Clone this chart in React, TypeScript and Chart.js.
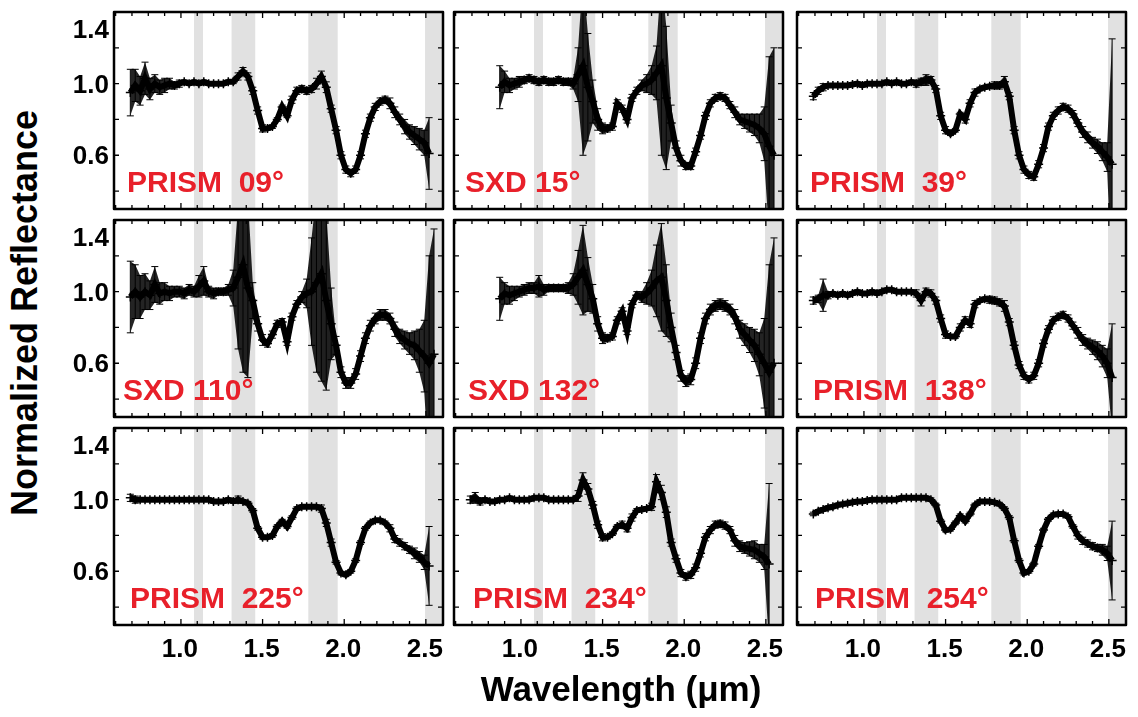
import React, { useEffect, useRef } from "react";
import { Chart, registerables } from "chart.js";

Chart.register(...registerables);

// ---------- data ----------
const WAVELENGTH = [
  0.69, 0.72, 0.75, 0.78, 0.81, 0.84, 0.87, 0.9, 0.93, 0.96,
  0.99, 1.02, 1.05, 1.08, 1.11, 1.14, 1.17, 1.2, 1.23, 1.26,
  1.29, 1.32, 1.35, 1.38, 1.41, 1.44, 1.47, 1.5, 1.53, 1.56,
  1.59, 1.62, 1.65, 1.68, 1.71, 1.74, 1.77, 1.8, 1.83, 1.86,
  1.89, 1.92, 1.95, 1.98, 2.01, 2.04, 2.07, 2.1, 2.13, 2.16,
  2.19, 2.22, 2.25, 2.28, 2.31, 2.34, 2.37, 2.4, 2.43, 2.46,
  2.49, 2.52, 2.55,
];

const PRISM_09 = [
  0.95, 0.99, 0.96, 1.03, 0.97, 1.0, 0.98, 0.99, 1.0, 0.99,
  1.0, 1.01, 1.0, 1.01, 1.0, 1.01, 1.0, 1.0, 1.0, 1.0,
  1.01, 1.01, 1.04, 1.07, 1.04, 0.96, 0.85, 0.75, 0.75, 0.76,
  0.8, 0.87, 0.82, 0.91, 0.96, 0.97, 0.96, 0.97, 1.0, 1.04,
  0.98, 0.86, 0.74, 0.6, 0.52, 0.5, 0.52, 0.6, 0.72, 0.81,
  0.87, 0.9, 0.91, 0.89, 0.84, 0.8, 0.76, 0.73, 0.71, 0.69,
  0.67, 0.61, null,
];
const PRISM_09_ERR = [
  0.13, 0.09, 0.08, 0.09, 0.06, 0.05, 0.04, 0.04, 0.03, 0.02,
  0.02, 0.01, 0.01, 0.01, 0.01, 0.01, 0.01, 0.01, 0.01, 0.01,
  0.01, 0.01, 0.02, 0.02, 0.02, 0.02, 0.02, 0.02, 0.01, 0.01,
  0.01, 0.01, 0.01, 0.02, 0.02, 0.02, 0.02, 0.02, 0.03, 0.03,
  0.03, 0.02, 0.02, 0.02, 0.02, 0.02, 0.02, 0.02, 0.02, 0.02,
  0.02, 0.02, 0.02, 0.03, 0.03, 0.03, 0.04, 0.04, 0.05, 0.06,
  0.07, 0.2, 0,
];

const SXD_15 = [
  null, null, null, null, null, null, 0.98, 1.01, 0.99, 1.0,
  1.01, 1.02, 1.03, 1.02, 1.01, 1.02, 1.01, 1.01, 1.02, 1.01,
  1.01, 1.0, 1.05, 1.1, 0.98, 0.9, 0.8, 0.75, 0.75, 0.76,
  0.89, 0.86, 0.8, 0.92, 0.96, 0.99, 1.0, 1.02, 1.06, 1.1,
  0.92, 0.78, 0.64, 0.57, 0.54, 0.54, 0.62, 0.71, 0.82, 0.89,
  0.92, 0.93, 0.92, 0.88, 0.84, 0.8, 0.79, 0.78, 0.77, 0.75,
  0.72, 0.65, 0.6,
];
const SXD_15_ERR = [
  0, 0, 0, 0, 0, 0, 0.12, 0.06, 0.04, 0.03,
  0.03, 0.02, 0.02, 0.02, 0.02, 0.02, 0.02, 0.02, 0.02, 0.02,
  0.02, 0.03, 0.15, 0.5, 0.3, 0.12, 0.06, 0.03, 0.02, 0.02,
  0.02, 0.02, 0.02, 0.02, 0.02, 0.03, 0.05, 0.08, 0.15, 0.5,
  0.4, 0.1, 0.04, 0.03, 0.02, 0.02, 0.02, 0.02, 0.02, 0.02,
  0.02, 0.02, 0.02, 0.02, 0.03, 0.03, 0.04, 0.05, 0.06, 0.08,
  0.15, 0.5, 0.6,
];

const PRISM_39 = [
  0.93, 0.96, 0.98, 0.99, 0.99, 0.99, 0.99, 0.99, 0.995, 1.0,
  0.99, 1.0, 1.0, 1.0, 1.0, 1.01, 1.0, 1.01, 1.0, 1.0,
  1.01, 1.0, 1.01, 1.02, 1.02, 0.97, 0.82, 0.74, 0.72, 0.74,
  0.83, 0.8, 0.89, 0.95, 0.97, 0.98, 0.985, 0.99, 0.99, 1.01,
  0.93, 0.74, 0.6, 0.52, 0.49, 0.48, 0.55, 0.64, 0.76, 0.82,
  0.85, 0.87, 0.86, 0.83, 0.78, 0.73, 0.7, 0.67, 0.65, 0.62,
  0.59, 0.55, null,
];
const PRISM_39_ERR = [
  0.02, 0.02, 0.02, 0.01, 0.01, 0.01, 0.01, 0.01, 0.01, 0.01,
  0.01, 0.01, 0.01, 0.01, 0.01, 0.01, 0.01, 0.01, 0.01, 0.01,
  0.01, 0.02, 0.02, 0.03, 0.02, 0.02, 0.02, 0.02, 0.01, 0.01,
  0.01, 0.02, 0.02, 0.02, 0.01, 0.01, 0.01, 0.02, 0.02, 0.03,
  0.02, 0.02, 0.02, 0.02, 0.02, 0.02, 0.02, 0.02, 0.02, 0.02,
  0.02, 0.02, 0.02, 0.02, 0.02, 0.03, 0.03, 0.03, 0.04, 0.05,
  0.08, 0.7, 0,
];

const SXD_110 = [
  0.97, 1.0, 0.97, 1.0, 0.98, 1.04, 0.99, 1.0, 0.99, 1.0,
  1.0, 0.99, 1.01, 1.0, 1.03, 1.06, 1.0, 0.99, 1.0, 1.0,
  1.01, 1.02, 1.08, 1.15, 1.02, 0.95, 0.82, 0.73, 0.71, 0.76,
  0.82, 0.83, 0.72, 0.86, 0.93, 0.97, 0.99, 1.0, 1.05, 1.1,
  0.95, 0.82, 0.7, 0.55, 0.49, 0.49, 0.54, 0.64, 0.74, 0.81,
  0.85, 0.87, 0.87, 0.85, 0.79, 0.75, 0.73, 0.71, 0.7, 0.67,
  0.64, 0.6, 0.65,
];
const SXD_110_ERR = [
  0.2, 0.15, 0.12, 0.1, 0.08, 0.1, 0.06, 0.05, 0.04, 0.03,
  0.03, 0.03, 0.03, 0.03, 0.06, 0.08, 0.03, 0.03, 0.02, 0.02,
  0.03, 0.1, 0.4, 0.6, 0.5, 0.1, 0.04, 0.03, 0.02, 0.02,
  0.02, 0.02, 0.02, 0.02, 0.02, 0.03, 0.08, 0.3, 0.5, 0.6,
  0.5, 0.2, 0.05, 0.03, 0.03, 0.03, 0.03, 0.03, 0.03, 0.03,
  0.03, 0.03, 0.03, 0.03, 0.04, 0.04, 0.05, 0.06, 0.08, 0.12,
  0.2, 0.6, 0.7,
];

const SXD_132 = [
  null, null, null, null, null, null, 0.96, 0.99, 0.98, 0.99,
  1.0, 1.01, 1.02, 1.02, 1.03, 1.01, 1.02, 1.02, 1.02, 1.02,
  1.02, 1.04, 1.08, 1.12, 1.04, 0.96, 0.82, 0.74, 0.74, 0.75,
  0.84, 0.89, 0.78, 0.93, 0.98, 0.97, 0.99, 1.02, 1.06, 1.08,
  0.95, 0.8, 0.66, 0.53, 0.5, 0.51, 0.6, 0.74, 0.85, 0.9,
  0.92, 0.93, 0.92, 0.9, 0.86, 0.79, 0.76, 0.73, 0.7, 0.65,
  0.6, 0.55, 0.6,
];
const SXD_132_ERR = [
  0, 0, 0, 0, 0, 0, 0.12, 0.06, 0.05, 0.04,
  0.03, 0.03, 0.03, 0.03, 0.06, 0.03, 0.02, 0.02, 0.02, 0.02,
  0.03, 0.06, 0.15, 0.25, 0.15, 0.08, 0.04, 0.03, 0.02, 0.02,
  0.02, 0.02, 0.02, 0.02, 0.02, 0.03, 0.06, 0.1, 0.2, 0.3,
  0.2, 0.08, 0.04, 0.03, 0.03, 0.03, 0.03, 0.03, 0.03, 0.03,
  0.03, 0.03, 0.03, 0.03, 0.04, 0.05, 0.06, 0.07, 0.09, 0.12,
  0.25, 0.6, 0.7,
];

const PRISM_138 = [
  0.95, 0.96, 0.98, 0.98, 0.99, 0.98, 0.99, 0.98, 0.99, 1.0,
  0.99, 0.99, 1.0, 0.99, 1.0, 1.01, 1.01, 1.0, 1.0, 1.0,
  1.0, 0.99, 0.95, 1.0, 0.99, 0.95, 0.85, 0.76, 0.75, 0.75,
  0.8, 0.84, 0.82, 0.93, 0.95, 0.96, 0.955, 0.95, 0.94, 0.92,
  0.83, 0.7, 0.59, 0.53, 0.51, 0.53, 0.6, 0.71, 0.79, 0.84,
  0.86, 0.87, 0.85, 0.81, 0.77, 0.73, 0.71, 0.69, 0.67, 0.64,
  0.6, 0.52, null,
];
const PRISM_138_ERR = [
  0.02, 0.02, 0.09, 0.02, 0.01, 0.01, 0.01, 0.01, 0.01, 0.01,
  0.01, 0.01, 0.01, 0.01, 0.01, 0.01, 0.01, 0.01, 0.01, 0.01,
  0.01, 0.02, 0.03, 0.02, 0.02, 0.02, 0.02, 0.02, 0.01, 0.01,
  0.02, 0.02, 0.02, 0.02, 0.01, 0.01, 0.02, 0.02, 0.02, 0.03,
  0.02, 0.02, 0.02, 0.02, 0.02, 0.02, 0.02, 0.02, 0.02, 0.02,
  0.02, 0.02, 0.02, 0.02, 0.03, 0.03, 0.03, 0.04, 0.05, 0.06,
  0.08, 0.3, 0,
];

const PRISM_225 = [
  1.01, 1.0, 1.0, 1.0, 1.0, 1.0, 1.0, 1.0, 1.0, 1.0,
  1.0, 1.0, 1.0, 1.0, 1.0, 1.0, 1.0, 0.99, 0.99, 0.99,
  1.0, 0.99, 1.0, 0.99, 0.98, 0.94, 0.84, 0.79, 0.79, 0.8,
  0.85, 0.88, 0.85, 0.9, 0.95, 0.96, 0.96, 0.96, 0.96, 0.95,
  0.87, 0.76, 0.65, 0.59, 0.58, 0.6, 0.66, 0.76, 0.84, 0.87,
  0.885, 0.885, 0.87, 0.84, 0.78, 0.76, 0.74, 0.72, 0.7, 0.68,
  0.65, 0.63, null,
];
const PRISM_225_ERR = [
  0.02, 0.02, 0.01, 0.01, 0.01, 0.01, 0.01, 0.01, 0.01, 0.01,
  0.01, 0.01, 0.01, 0.01, 0.01, 0.01, 0.01, 0.01, 0.01, 0.01,
  0.01, 0.01, 0.02, 0.01, 0.01, 0.01, 0.01, 0.01, 0.01, 0.01,
  0.01, 0.01, 0.01, 0.01, 0.01, 0.01, 0.01, 0.01, 0.01, 0.02,
  0.02, 0.02, 0.01, 0.01, 0.01, 0.01, 0.01, 0.01, 0.01, 0.01,
  0.01, 0.01, 0.01, 0.02, 0.02, 0.02, 0.02, 0.02, 0.03, 0.03,
  0.04, 0.22, 0,
];

const PRISM_234 = [
  1.0, 1.01, 0.99, 1.0, 0.99, 0.99, 1.0, 1.0, 1.01, 1.0,
  1.0, 1.0, 1.0, 1.01, 1.01, 1.01, 1.0, 1.0, 1.0, 1.0,
  1.0, 1.0, 1.02, 1.11, 1.06, 0.97, 0.86, 0.79, 0.79, 0.81,
  0.85, 0.86, 0.84, 0.9, 0.94, 0.945, 0.95, 0.96, 1.1, 1.04,
  0.93, 0.76, 0.67, 0.59, 0.57, 0.58, 0.62, 0.7, 0.79, 0.83,
  0.86, 0.865, 0.855, 0.83, 0.77, 0.74, 0.73, 0.725, 0.72, 0.7,
  0.68, 0.64, null,
];
const PRISM_234_ERR = [
  0.02, 0.03, 0.02, 0.01, 0.01, 0.01, 0.01, 0.01, 0.01, 0.01,
  0.01, 0.01, 0.01, 0.01, 0.01, 0.01, 0.01, 0.01, 0.01, 0.01,
  0.01, 0.01, 0.03, 0.04, 0.03, 0.02, 0.02, 0.02, 0.01, 0.01,
  0.01, 0.02, 0.02, 0.02, 0.01, 0.01, 0.01, 0.02, 0.04, 0.04,
  0.03, 0.02, 0.02, 0.02, 0.02, 0.02, 0.02, 0.02, 0.02, 0.02,
  0.02, 0.02, 0.02, 0.02, 0.03, 0.03, 0.03, 0.04, 0.05, 0.05,
  0.07, 0.45, 0,
];

const PRISM_254 = [
  0.92, 0.935, 0.945, 0.955, 0.96, 0.97, 0.975, 0.98, 0.985, 0.99,
  0.99, 0.995, 1.0, 1.0, 1.0, 1.0, 1.0, 1.0, 1.01, 1.01,
  1.01, 1.01, 1.01, 1.01, 1.0, 0.97, 0.88, 0.83, 0.835, 0.87,
  0.91, 0.88, 0.92, 0.97, 0.99, 0.99, 0.99, 0.985, 0.975, 0.95,
  0.9, 0.77, 0.66, 0.59, 0.6, 0.64, 0.74, 0.83, 0.89, 0.915,
  0.92, 0.92, 0.905, 0.85, 0.8, 0.77, 0.755, 0.74, 0.73, 0.72,
  0.7, 0.66, null,
];
const PRISM_254_ERR = [
  0.01, 0.01, 0.01, 0.01, 0.01, 0.01, 0.01, 0.01, 0.01, 0.01,
  0.01, 0.01, 0.01, 0.01, 0.01, 0.01, 0.01, 0.01, 0.01, 0.01,
  0.01, 0.01, 0.01, 0.01, 0.01, 0.01, 0.01, 0.01, 0.01, 0.01,
  0.01, 0.01, 0.01, 0.01, 0.01, 0.01, 0.01, 0.01, 0.01, 0.01,
  0.01, 0.01, 0.01, 0.01, 0.01, 0.01, 0.01, 0.01, 0.01, 0.01,
  0.01, 0.01, 0.01, 0.01, 0.02, 0.02, 0.02, 0.02, 0.02, 0.03,
  0.04, 0.22, 0,
];

const PANEL_LABELS = [
  "PRISM  09°", "SXD 15°", "PRISM  39°",
  "SXD 110°", "SXD 132°", "PRISM  138°",
  "PRISM  225°", "PRISM  234°", "PRISM  254°",
];
const PANEL_VALUES = [
  PRISM_09, SXD_15, PRISM_39,
  SXD_110, SXD_132, PRISM_138,
  PRISM_225, PRISM_234, PRISM_254,
];
const PANEL_ERRORS = [
  PRISM_09_ERR, SXD_15_ERR, PRISM_39_ERR,
  SXD_110_ERR, SXD_132_ERR, PRISM_138_ERR,
  PRISM_225_ERR, PRISM_234_ERR, PRISM_254_ERR,
];

const Y_LABEL_VALUES = [1.4, 1.0, 0.6];
const Y_LABEL_TEXT = ["1.4", "1.0", "0.6"];
const X_LABEL_VALUES = [1.0, 1.5, 2.0, 2.5];
const X_LABEL_TEXT = ["1.0", "1.5", "2.0", "2.5"];
const Y_TICKS = [0.4, 0.6, 0.8, 1.0, 1.2];
const TELLURIC_BANDS = [
  [1.08, 1.135],
  [1.31, 1.455],
  [1.78, 1.96],
  [2.495, 2.62],
];

// ---------- layout / style ----------
const X_MIN = 0.59;
const X_MAX = 2.605;
const Y_MIN = 0.3;
const Y_MAX = 1.4;
const COL_LEFT = [114, 454, 797];
const ROW_TOP = [10, 218, 426];
const FRAME_W = 331;
const FRAME_H = 199;
const PAD = { left: 60, right: 4, top: 4, bottom: 44 };
const LABEL_DX = [13, 11, 13, 9, 14, 16, 16, 19, 18];
const FONT = '"Liberation Sans", Arial, Helvetica, sans-serif';
const RED = "#e8202a";

function Panel({ index }: { index: number }) {
  const ref = useRef<HTMLCanvasElement | null>(null);
  const row = Math.floor(index / 3);
  const col = index % 3;
  const cw = FRAME_W + PAD.left + PAD.right;
  const ch = FRAME_H + PAD.top + PAD.bottom;

  useEffect(() => {
    const values = PANEL_VALUES[index];
    const errors = PANEL_ERRORS[index];
    const main = WAVELENGTH.map((w, i) => ({ x: w, y: values[i] }));
    const upper = WAVELENGTH.map((w, i) => ({
      x: w,
      y: values[i] == null ? null : (values[i] as number) + errors[i],
    }));
    const lower = WAVELENGTH.map((w, i) => ({
      x: w,
      y: values[i] == null ? null : (values[i] as number) - errors[i],
    }));

    const bandPlugin = {
      id: "bands",
      beforeDatasetsDraw(chart: any) {
        const { ctx, chartArea: a, scales } = chart;
        const x = scales.x;
        ctx.save();
        ctx.fillStyle = "#e1e1e1";
        for (const [s, e] of TELLURIC_BANDS) {
          const x1 = Math.max(a.left, x.getPixelForValue(s));
          const x2 = Math.min(a.right, x.getPixelForValue(e));
          if (x2 > x1) ctx.fillRect(x1, a.top, x2 - x1, a.bottom - a.top);
        }
        ctx.restore();
      },
    };

    const errPlugin = {
      id: "errbars",
      afterDatasetsDraw(chart: any) {
        const { ctx, chartArea: a, scales } = chart;
        const x = scales.x;
        const y = scales.y;
        ctx.save();
        ctx.beginPath();
        ctx.rect(a.left, a.top, a.right - a.left, a.bottom - a.top);
        ctx.clip();
        ctx.strokeStyle = "#000";
        ctx.lineWidth = 1;
        ctx.beginPath();
        WAVELENGTH.forEach((w, i) => {
          const v = values[i];
          if (v == null) return;
          const e = errors[i];
          const px = x.getPixelForValue(w);
          const y1 = y.getPixelForValue(v - e);
          const y2 = y.getPixelForValue(v + e);
          ctx.moveTo(px, y1);
          ctx.lineTo(px, y2);
          ctx.moveTo(px - 3.5, y1);
          ctx.lineTo(px + 3.5, y1);
          ctx.moveTo(px - 3.5, y2);
          ctx.lineTo(px + 3.5, y2);
        });
        ctx.stroke();
        ctx.restore();
      },
    };

    const framePlugin = {
      id: "frame",
      afterDraw(chart: any) {
        const { ctx, chartArea: a, scales } = chart;
        const x = scales.x;
        const y = scales.y;
        ctx.save();
        ctx.strokeStyle = "#000";
        ctx.lineWidth = 1.3;
        ctx.beginPath();
        for (let k = 6; k <= 26; k++) {
          const v = k / 10;
          const px = x.getPixelForValue(v);
          if (px < a.left + 1 || px > a.right - 1) continue;
          const len = k % 5 === 0 ? 6 : 4;
          ctx.moveTo(px, a.top);
          ctx.lineTo(px, a.top + len);
          ctx.moveTo(px, a.bottom);
          ctx.lineTo(px, a.bottom - len);
        }
        for (const v of Y_TICKS) {
          const py = y.getPixelForValue(v);
          ctx.moveTo(a.left, py);
          ctx.lineTo(a.left + 5, py);
          ctx.moveTo(a.right, py);
          ctx.lineTo(a.right - 5, py);
        }
        ctx.stroke();
        ctx.lineWidth = 2.5;
        ctx.lineJoin = "round";
        ctx.strokeRect(a.left, a.top, a.right - a.left, a.bottom - a.top);

        ctx.fillStyle = "#000";
        ctx.font = `bold 26px ${FONT}`;
        ctx.textBaseline = "alphabetic";
        if (col === 0) {
          ctx.textAlign = "right";
          Y_LABEL_VALUES.forEach((v, i) => {
            let py = y.getPixelForValue(v);
            if (py < a.top + 17) py = a.top + 17;
            ctx.fillText(Y_LABEL_TEXT[i], a.left - 5, py + 9);
          });
        }
        if (row === 2) {
          ctx.textAlign = "center";
          X_LABEL_VALUES.forEach((v, i) => {
            ctx.fillText(X_LABEL_TEXT[i], x.getPixelForValue(v) - 1, a.bottom + 32);
          });
        }
        ctx.fillStyle = RED;
        ctx.font = `bold 30px ${FONT}`;
        ctx.textAlign = "left";
        ctx.fillText(PANEL_LABELS[index], a.left + LABEL_DX[index], a.bottom - 17);
        ctx.restore();
      },
    };

    const chart = new Chart(ref.current as HTMLCanvasElement, {
      type: "line",
      data: {
        datasets: [
          {
            data: upper,
            borderWidth: 0,
            pointRadius: 0,
            fill: false,
            spanGaps: false,
            clip: 0,
          },
          {
            data: lower,
            borderWidth: 0,
            pointRadius: 0,
            fill: "-1",
            backgroundColor: "rgba(0,0,0,0.86)",
            spanGaps: false,
            clip: 0,
          },
          {
            data: main,
            borderColor: "#000",
            borderWidth: 6,
            tension: 0,
            pointStyle: "cross",
            pointRadius: 4.5,
            pointBorderWidth: 1.5,
            pointBorderColor: "#000",
            pointBackgroundColor: "#000",
            fill: false,
            spanGaps: false,
            clip: 0,
          },
        ],
      } as any,
      options: {
        animation: false,
        responsive: false,
        events: [],
        layout: { padding: PAD },
        plugins: { legend: { display: false }, tooltip: { enabled: false } },
        scales: {
          x: { type: "linear", min: X_MIN, max: X_MAX, display: false },
          y: { type: "linear", min: Y_MIN, max: Y_MAX, display: false },
        },
      } as any,
      plugins: [bandPlugin, errPlugin, framePlugin],
    });
    return () => chart.destroy();
  }, [index]);

  return (
    <canvas
      ref={ref}
      width={cw}
      height={ch}
      style={{
        position: "absolute",
        left: COL_LEFT[col] - PAD.left,
        top: ROW_TOP[row] - PAD.top,
        width: cw,
        height: ch,
      }}
    />
  );
}

export default function App() {
  return (
    <div
      style={{
        position: "absolute",
        left: 0,
        top: 0,
        width: 1138,
        height: 717,
        background: "#fff",
        overflow: "hidden",
      }}
    >
      {PANEL_LABELS.map((_, i) => (
        <Panel key={i} index={i} />
      ))}
      <div
        style={{
          position: "absolute",
          left: 25 - 300,
          top: 313 - 25,
          width: 600,
          height: 50,
          lineHeight: "50px",
          textAlign: "center",
          transform: "rotate(-90deg)",
          fontFamily: FONT,
          fontWeight: "bold",
          fontSize: 36,
          whiteSpace: "nowrap",
          color: "#000",
        }}
      >
        Normalized Reflectance
      </div>
      <div
        style={{
          position: "absolute",
          left: 621 - 300,
          top: 689 - 25,
          width: 600,
          height: 50,
          lineHeight: "50px",
          textAlign: "center",
          fontFamily: FONT,
          fontWeight: "bold",
          fontSize: 35,
          whiteSpace: "nowrap",
          color: "#000",
        }}
      >
        Wavelength (μm)
      </div>
    </div>
  );
}
